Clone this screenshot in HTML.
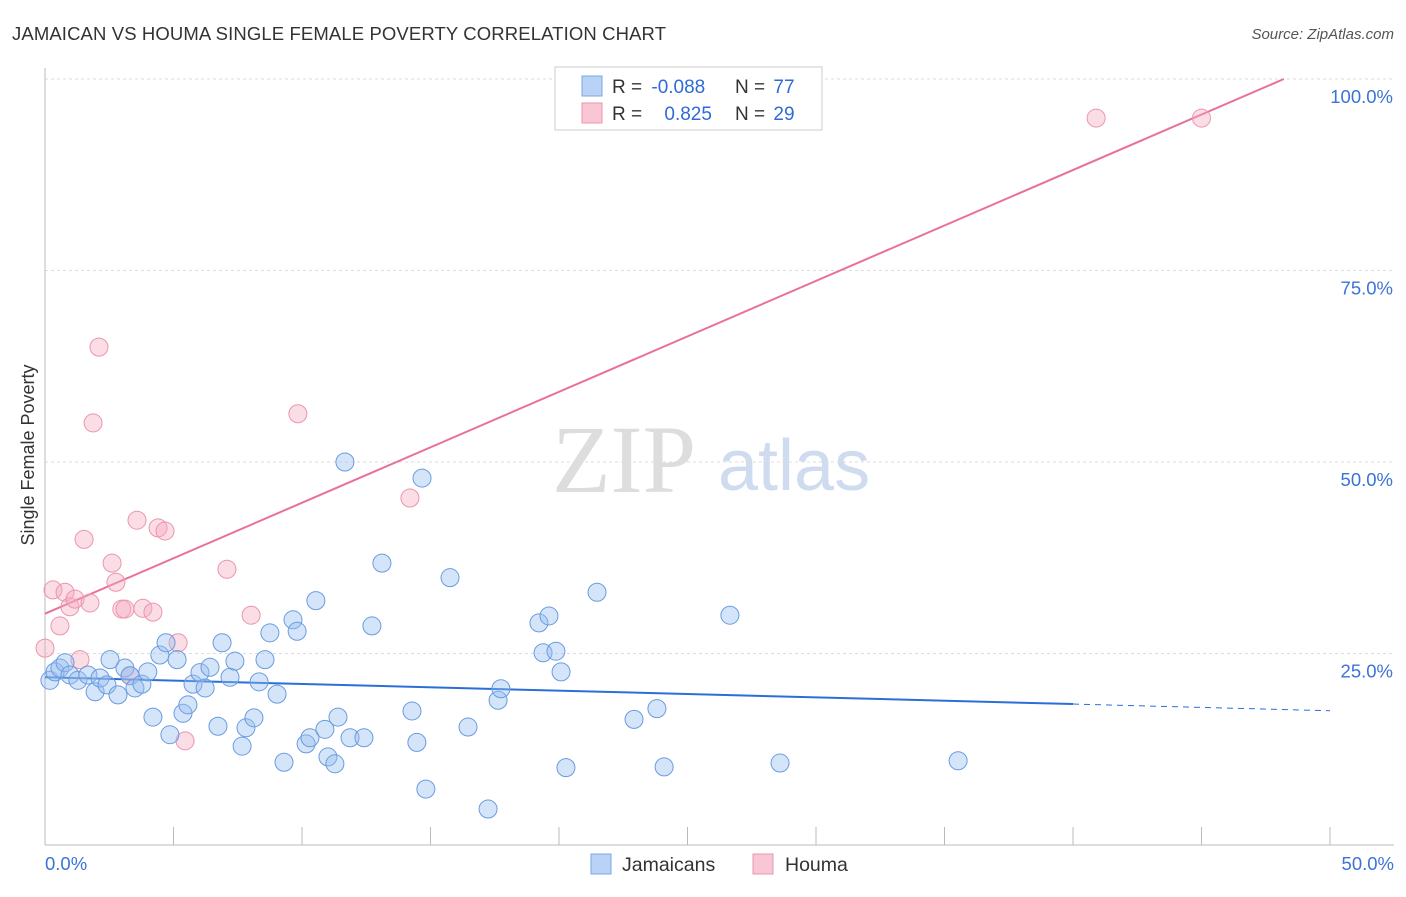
<!DOCTYPE html>
<html><head><meta charset="utf-8"><style>
body{margin:0;background:#fff;font-family:"Liberation Sans",sans-serif;}
#wrap{position:relative;width:1406px;height:892px;}
</style></head><body>
<div id="wrap">
<svg id="chart" width="1406" height="892" xmlns="http://www.w3.org/2000/svg">
<text x="12" y="40" font-size="18.5" fill="#333" textLength="654" lengthAdjust="spacing">JAMAICAN VS HOUMA SINGLE FEMALE POVERTY CORRELATION CHART</text>
<text x="1394" y="39" font-size="15" fill="#555" font-style="italic" text-anchor="end">Source: ZipAtlas.com</text>
<text x="34" y="455" font-size="18" fill="#333" text-anchor="middle" transform="rotate(-90 34 455)">Single Female Poverty</text>
<g>
<text x="552" y="492" font-size="96" fill="#ddd" font-family="Liberation Serif,serif">ZIP</text>
<text x="718" y="490" font-size="72" fill="#cfdcf0">atlas</text>
</g>
<g id="grid"></g><g id="axes"></g><g id="lines"></g><g id="pts"></g>
<g>
<rect x="555" y="67" width="267" height="63" fill="#fff" stroke="#ccc"/>
<rect x="582" y="76" width="20" height="20" fill="#b8d3f5" stroke="#7aa7e6"/>
<rect x="582" y="103" width="20" height="20" fill="#f8c6d4" stroke="#eb95ad"/>
<text x="612" y="93" font-size="19" fill="#333">R = <tspan fill="#2e6bd6" dx="4">-0.088</tspan></text>
<text x="735" y="93" font-size="19" fill="#333">N = <tspan fill="#2e6bd6" dx="3">77</tspan></text>
<text x="612" y="120" font-size="19" fill="#333">R = <tspan fill="#2e6bd6" dx="17">0.825</tspan></text>
<text x="735" y="120" font-size="19" fill="#333">N = <tspan fill="#2e6bd6" dx="3">29</tspan></text>
</g>
<g>
<rect x="591" y="854" width="20" height="20" fill="#b8d3f5" stroke="#7aa7e6"/>
<text x="622" y="871" font-size="19.5" fill="#333">Jamaicans</text>
<rect x="753" y="854" width="20" height="20" fill="#f8c6d4" stroke="#eb95ad"/>
<text x="785" y="871" font-size="19.5" fill="#333">Houma</text>
</g>
</svg>
</div>
<script>
const blueX=[0.19,0.39,0.58,0.78,0.97,1.28,1.67,1.95,2.14,2.41,2.53,2.84,3.11,3.31,3.5,3.77,4.0,4.2,4.47,4.71,4.86,5.14,5.37,5.56,5.76,6.03,6.23,6.42,6.73,6.89,7.2,7.39,7.67,7.82,8.13,8.33,8.56,8.75,9.03,9.3,9.65,9.81,10.16,10.31,10.54,10.89,11.01,11.28,11.4,11.67,11.87,12.41,12.72,13.11,14.28,14.47,14.67,14.82,15.76,16.46,17.24,17.63,17.74,19.22,19.38,19.61,19.88,20.08,20.27,21.48,22.92,23.81,24.09,26.65,28.6,35.53];
const blueY=[21.5,22.6,23.1,23.8,22.2,21.5,22.2,20.0,21.8,20.9,24.2,19.6,23.1,22.1,20.5,21.0,22.6,16.7,24.8,26.4,14.4,24.2,17.2,18.3,21.0,22.5,20.5,23.2,15.5,26.4,21.9,24.0,12.9,15.3,16.6,21.3,24.2,27.7,19.7,10.8,29.4,27.9,13.2,14.0,31.9,15.1,11.5,10.6,16.7,50.0,14.0,14.0,28.6,36.8,17.5,13.4,47.9,7.3,34.9,15.4,4.7,18.9,20.4,29.0,25.1,29.9,25.3,22.6,10.1,33.0,16.4,17.8,10.2,30.0,10.7,11.0];
const pinkX=[0,0.31,0.58,0.78,0.97,1.17,1.36,1.52,1.75,1.87,2.1,2.61,2.76,2.99,3.11,3.31,3.58,3.81,4.2,4.4,4.67,5.18,5.45,7.08,8.02,9.84,14.2,40.9,45.0];
const pinkY=[25.7,33.3,28.6,33.0,31.1,32.1,24.2,39.9,31.6,55.1,65.0,36.8,34.3,30.8,30.8,22.1,42.4,30.9,30.4,41.4,41.0,26.4,13.6,36.0,30.0,56.3,45.3,94.9,94.9];
const blueTrend=[21.9,-0.0875];
const pinkTrend=[30.2,1.448];
const yTicks=[25,50,75,100];
const yTickLabels=["25.0%","50.0%","75.0%","100.0%"];
const xTicks=[0,5,10,15,20,25,30,35,40,45,50];
const NS="http://www.w3.org/2000/svg";
const sx=v=>45+v*25.7, sy=v=>845-v*7.66;
function mk(t,a,p){const e=document.createElementNS(NS,t);for(const k in a)e.setAttribute(k,a[k]);document.getElementById(p).appendChild(e);return e;}
yTicks.forEach((t,i)=>{
 const g=mk('line',{x1:45,x2:1394,y1:sy(t),y2:sy(t),stroke:'#ddd','stroke-dasharray':'3,3'},'grid');
 
 
 const l=mk('text',{x:1393,y:sy(t)+24,'font-size':18.5,fill:'#3b73d6','text-anchor':'end'},'axes');
 l.textContent=yTickLabels[i];
 
 
});
mk('line',{x1:45,x2:45,y1:68,y2:845,stroke:'#bbb'},'axes');
const xa=mk('line',{x1:45,x2:1394,y1:845,y2:845,stroke:'#bbb'},'axes');


xTicks.forEach(t=>{const e=mk('line',{x1:sx(t),x2:sx(t),y1:827,y2:845,stroke:'#bbb'},'axes');
 
 });
const x0=mk('text',{x:45,y:870,'font-size':18.5,fill:'#3b73d6'},'axes');x0.textContent='0.0%';


const x1=mk('text',{x:1394,y:870,'font-size':18.5,fill:'#3b73d6','text-anchor':'end'},'axes');x1.textContent='50.0%';


function pts(X,Y,fill,stroke,name){X.forEach((x,i)=>{const c=mk('circle',{cx:sx(x),cy:sy(Y[i]),r:9,fill:fill,stroke:stroke,'stroke-width':1},'pts');
 
 });}
pts(pinkX,pinkY,'rgba(245,170,192,0.4)','#eb95ad','point-houma');
pts(blueX,blueY,'rgba(150,190,240,0.4)','#6a9be0','point-jamaicans');
const bl=mk('line',{x1:sx(0),y1:sy(blueTrend[0]),x2:sx(40),y2:sy(blueTrend[0]+blueTrend[1]*40),stroke:'#2a6fd8','stroke-width':2},'lines');


const bd=mk('line',{x1:sx(40),y1:sy(blueTrend[0]+blueTrend[1]*40),x2:sx(50),y2:sy(blueTrend[0]+blueTrend[1]*50),stroke:'#2a6fd8','stroke-width':1,'stroke-dasharray':'6,5'},'lines');


const xe=(100-pinkTrend[0])/pinkTrend[1];
const pl=mk('line',{x1:sx(0),y1:sy(pinkTrend[0]),x2:sx(xe),y2:sy(100),stroke:'#e8709a','stroke-width':2},'lines');


</script>
</body></html>
